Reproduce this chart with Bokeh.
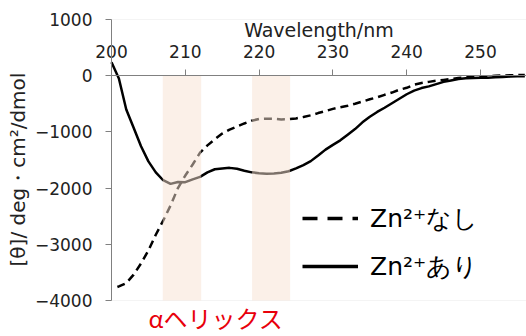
from bokeh.plotting import figure
from bokeh.models import (Legend, LegendItem, Label, FixedTicker, Range1d,
                          BoxAnnotation)
from bokeh.embed import file_html
from bokeh.resources import INLINE

# Wavelength (nm) and mean residue ellipticity for the two samples
wl_zn = [200, 201, 202, 203, 204, 205, 206, 207, 208, 209, 210, 211, 212, 213, 214,
         215, 216, 217, 218, 219, 220, 221, 222, 223, 224, 225, 226, 227, 228, 229,
         230, 231, 232, 233, 234, 235, 236, 237, 238, 239, 240, 241, 242, 243, 244,
         245, 246, 247, 248, 249, 250, 251, 252, 253, 254, 255, 256]
cd_zn = [240, -50, -600, -925, -1255, -1525, -1720, -1860, -1925, -1890, -1895, -1845,
         -1800, -1720, -1665, -1650, -1640, -1655, -1690, -1720, -1735, -1745, -1740,
         -1728, -1700, -1650, -1590, -1520, -1420, -1315, -1230, -1150, -1050, -950,
         -830, -730, -645, -570, -490, -410, -330, -265, -220, -190, -150, -110, -85,
         -60, -45, -40, -37, -35, -28, -25, -15, -12, -8]

wl_free = [200.8, 201, 202, 203, 204, 205, 206, 207, 208, 209, 210, 211, 212, 213, 214,
           215, 216, 217, 218, 219, 220, 221, 222, 223, 224, 225, 226, 227, 228, 229,
           230, 231, 232, 233, 234, 235, 236, 237, 238, 239, 240, 241, 242, 243, 244,
           245, 246, 247, 248, 249, 250, 251, 252, 253, 254, 255, 256]
cd_free = [-3760, -3750, -3690, -3540, -3340, -3110, -2830, -2580, -2310, -2000, -1776,
           -1580, -1370, -1240, -1130, -1030, -960, -905, -850, -800, -770, -765, -767,
           -778, -775, -760, -735, -705, -665, -630, -590, -560, -535, -500, -460, -420,
           -385, -340, -300, -250, -215, -160, -130, -110, -90, -75, -60, -40, -27, -20,
           -12, -8, -2, 3, 8, 10, 12]

band_left = [206.95, 219.05]
band_right = [212.15, 224.2]
band_top = [0, 0]
band_bottom = [-4000, -4000]

x_ticks = [200, 210, 220, 230, 240, 250]
y_ticks = [1000, 0, -1000, -2000, -3000, -4000]

series_labels = ["Zn\u00b2\u207aなし", "Zn\u00b2\u207aあり"]
band_label = "αヘリックス"

X_START, X_END = 184.96, 256.23
Y_START, Y_END = -4640.6, 1338.1

p = figure(width=526, height=336,
           x_range=Range1d(X_START, X_END), y_range=Range1d(Y_START, Y_END),
           x_axis_location="above", title=None,
           output_backend="svg", toolbar_location=None,
           min_border_left=0, min_border_right=0,
           min_border_top=0, min_border_bottom=0)
p.extra_y_ranges = {"hidden": Range1d(1e7, 1e7 + 1)}

p.xgrid.visible = False
p.ygrid.visible = False
p.outline_line_color = None
p.background_fill_color = "white"
p.border_fill_color = "white"

# light plot-area border (top & bottom)
p.add_layout(BoxAnnotation(left=200, right=257, top=1000, bottom=-4000,
                           fill_color=None, fill_alpha=0,
                           line_color="#dcdcdc", line_width=1, level="underlay"))

r_free = p.line(wl_free, cd_free, line_color="black", line_width=2.5, line_dash="8 5")
r_zn = p.line(wl_zn, cd_zn, line_color="black", line_width=2.5)

p.quad(left=band_left, right=band_right, top=band_top, bottom=band_bottom,
       fill_color=(247, 226, 210), fill_alpha=0.5, line_color=None)

# legend sample renderers (same data, mapped off-screen)
r1 = p.line(wl_free, cd_free, line_color="black", line_width=3.5,
            line_dash="15 10", y_range_name="hidden")
r2 = p.line(wl_zn, cd_zn, line_color="black", line_width=3.5,
            y_range_name="hidden")

legend = Legend(items=[LegendItem(label=series_labels[0], renderers=[r1]),
                       LegendItem(label=series_labels[1], renderers=[r2])],
                location=(302, 50), glyph_width=56, glyph_height=40,
                label_height=40, spacing=8, label_standoff=12,
                padding=0, margin=0, border_line_color=None,
                background_fill_alpha=0,
                label_text_font="DejaVu Sans", label_text_font_size="25px",
                label_text_color="black")
p.add_layout(legend)

p.add_layout(Label(x=205.0, y=-4000, text=band_label, text_color="#e8000b",
                   text_font="Noto Sans CJK JP", text_font_size="24px",
                   text_baseline="top"))

xa = p.xaxis[0]
xa.fixed_location = 0
xa.bounds = (200, X_END)
xa.ticker = FixedTicker(ticks=x_ticks)
xa.axis_label = "Wavelength/nm"
xa.axis_label_text_font = "DejaVu Sans"
xa.axis_label_text_font_style = "normal"
xa.axis_label_text_font_size = "19px"
xa.axis_label_text_color = "#222222"
xa.axis_label_standoff = 1
xa.major_label_text_font = "DejaVu Sans"
xa.major_label_text_font_size = "17px"
xa.major_label_text_color = "#222222"
xa.major_label_standoff = 12
xa.major_tick_in = 0
xa.major_tick_out = 6
xa.minor_tick_line_color = None
xa.axis_line_color = "#808080"
xa.major_tick_line_color = "#808080"

ya = p.yaxis[0]
ya.fixed_location = 200
ya.bounds = (-4000, 1000)
ya.ticker = FixedTicker(ticks=y_ticks)
ya.axis_label = "[θ]/ deg・cm²/dmol\u00a0\u00a0\u00a0"
ya.axis_label_text_font = "DejaVu Sans"
ya.axis_label_text_font_style = "normal"
ya.axis_label_text_font_size = "20px"
ya.axis_label_text_color = "#222222"
ya.axis_label_standoff = 2
ya.major_label_text_font = "DejaVu Sans"
ya.major_label_text_font_size = "17px"
ya.major_label_text_color = "#222222"
ya.major_label_standoff = 13
ya.major_tick_in = 0
ya.major_tick_out = 6
ya.minor_tick_line_color = None
ya.axis_line_color = "#808080"
ya.major_tick_line_color = "#808080"

open("out.html", "w").write(file_html(p, INLINE))
